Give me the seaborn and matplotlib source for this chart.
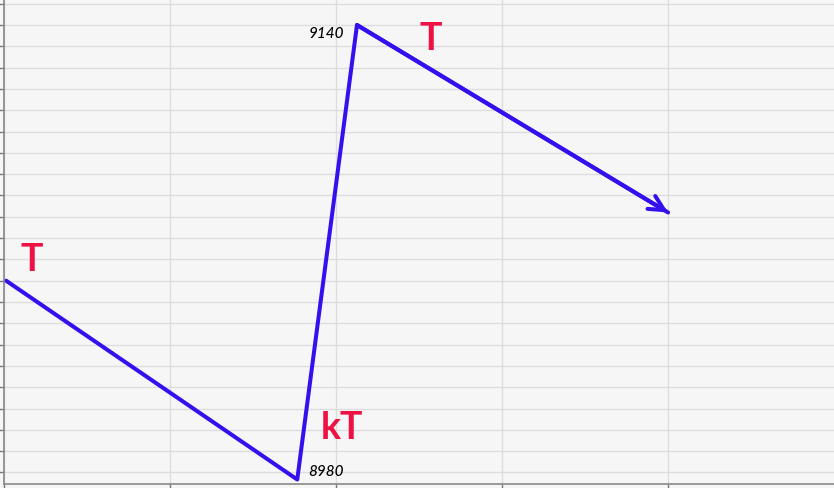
import numpy as np
import pandas as pd
import matplotlib
matplotlib.use('Agg')
import matplotlib.pyplot as plt
import seaborn as sns

# swing points of the price path
bar_pos = [0.01, 1.765, 2.125, 4.0]
price = [9050, 8980, 9140, 9074]

# labels
peak_label = '9140'
trough_label = '8980'
wave_labels = ['T', 'kT', 'T']

df = pd.DataFrame({'bar': bar_pos, 'price': price})

sns.set_theme(style='whitegrid')
plt.rcParams['font.family'] = ['Lato', 'DejaVu Sans']

fig = plt.figure(figsize=(8.34, 4.88), dpi=100)
ax = fig.add_axes([4.4 / 834, 4.5 / 488, 1 - 4.4 / 834, 1 - 4.5 / 488])
ax.set_facecolor('#f6f6f6')
fig.patch.set_facecolor('#f6f6f6')

blue = '#3311ee'
red = '#ee1144'

sns.lineplot(data=df, x='bar', y='price', sort=False, color=blue,
             linewidth=2.9, ax=ax)
# arrow head on the last leg
ax.annotate('', xy=(bar_pos[-1], price[-1]), xytext=(bar_pos[-2], price[-2]),
            arrowprops=dict(arrowstyle='->,head_length=0.9,head_width=0.45',
                            color=blue, lw=2.9, shrinkA=0, shrinkB=0))

ax.set_xlim(0, 5)
ax.set_ylim(8978.6, 9148.8)
ax.set_xticks(np.arange(0, 5, 1))
ax.set_yticks(np.arange(8982.5, 9150, 7.5))
ax.set_xticklabels([])
ax.set_yticklabels([])
ax.set_xlabel('')
ax.set_ylabel('')
ax.grid(True, color='#dddddd', linewidth=1)
ax.tick_params(axis='both', direction='out', length=3.5, width=1, color='#777777')
ax.tick_params(axis='x', bottom=True)
ax.tick_params(axis='y', left=True)
for side in ['top', 'right']:
    ax.spines[side].set_visible(False)
for side in ['left', 'bottom']:
    ax.spines[side].set_color('#888888')
    ax.spines[side].set_linewidth(1.2)

# price labels
ax.annotate(peak_label, xy=(bar_pos[2], price[2]), xytext=(-13, -9),
            textcoords='offset pixels', ha='right', va='center',
            fontsize=11, style='italic', fontweight='medium', color='black')
ax.annotate(trough_label, xy=(bar_pos[1], price[1]), xytext=(11, 8),
            textcoords='offset pixels', ha='left', va='center',
            fontsize=11, style='italic', fontweight='medium', color='black')

# wave labels
ax.annotate(wave_labels[0], xy=(bar_pos[0], price[0]), xytext=(26, 21),
            textcoords='offset pixels', ha='center', va='center',
            fontsize=27, fontweight='bold', color=red)
ax.annotate(wave_labels[1], xy=(bar_pos[1], price[1]), xytext=(45, 52),
            textcoords='offset pixels', ha='center', va='center',
            fontsize=27, fontweight='bold', color=red)
ax.annotate(wave_labels[2], xy=(bar_pos[2], price[2]), xytext=(74, -14),
            textcoords='offset pixels', ha='center', va='center',
            fontsize=27, fontweight='bold', color=red)

fig.savefig('out.png', dpi=100, facecolor=fig.get_facecolor())
plt.close(fig)
